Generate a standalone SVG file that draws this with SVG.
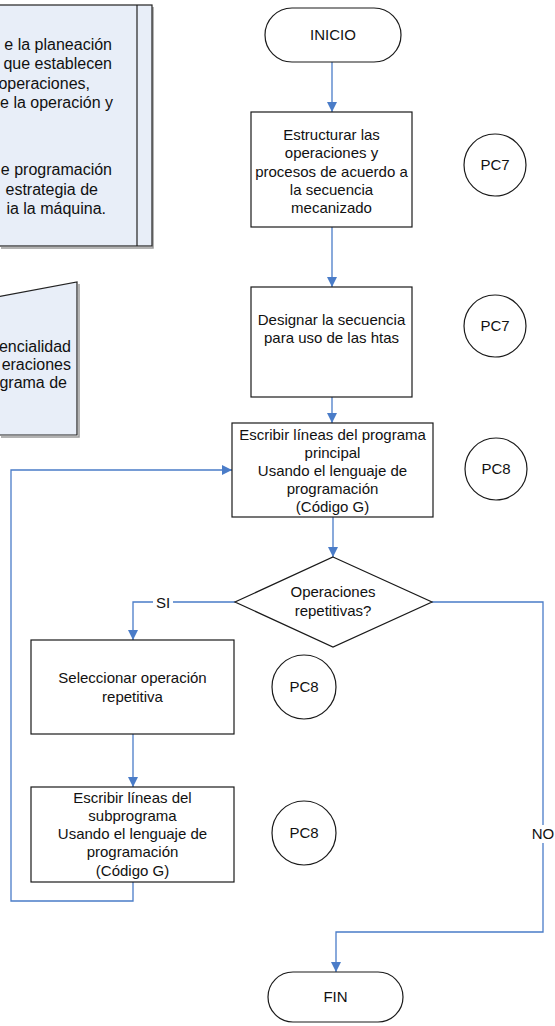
<svg xmlns="http://www.w3.org/2000/svg" width="555" height="1026" viewBox="0 0 555 1026">
  <style>
    text { font-family: "Liberation Sans", Arial, sans-serif; font-size: 15px; fill: #111; }
    .c { text-anchor: middle; }
    .e { text-anchor: end; font-size: 16px; }
    .shape { fill: #fff; stroke: #1a1a1a; stroke-width: 1.2; }
    .note { fill: #e8eef8; stroke: #222; stroke-width: 1.2; }
    .shadow { fill: none; stroke: #9a9a9a; stroke-width: 1.5; }
    .link { fill: none; stroke: #4a7cc8; stroke-width: 1.3; }
    .lbl-bg { fill: #fff; }
  </style>
  <defs>
    <marker id="arrow" viewBox="0 0 10 10" refX="10" refY="5" markerWidth="10" markerHeight="10" markerUnits="userSpaceOnUse" orient="auto">
      <path d="M0,0 L10,5 L0,10 Z" fill="#4a7cc8"/>
    </marker>
  </defs>

  <rect width="555" height="1026" fill="#fff"/>

  <!-- side notes (partly outside the page) -->
  <g id="note-planeacion">
    <path class="shadow" d="M1,248 H153 V7"/>
    <rect class="note" x="-60" y="5" width="212" height="241"/>
    <line x1="137" y1="5" x2="137" y2="246" stroke="#222" stroke-width="1.2"/>
    <text class="e" x="112" y="50">e la planeación</text>
    <text class="e" x="112" y="69">que establecen</text>
    <text class="e" x="90" y="88.5">operaciones,</text>
    <text class="e" x="113" y="108">e la operación y</text>
    <text class="e" x="112" y="175">e programación</text>
    <text class="e" x="98" y="194.5">estrategia de</text>
    <text class="e" x="106" y="214">ia la máquina.</text>
  </g>

  <g id="note-secuencialidad">
    <path class="shadow" d="M1,437 H79 V284"/>
    <path class="note" d="M-20,300 L77,282 V435 H-20 Z"/>
    <text class="e" x="71" y="352">encialidad</text>
    <text class="e" x="71" y="370">eraciones</text>
    <text class="e" x="67" y="388">grama de</text>
  </g>

  <!-- connectors -->
  <g id="connectors">
    <path class="link" d="M332,62 V112" marker-end="url(#arrow)"/>
    <path class="link" d="M332,227 V287" marker-end="url(#arrow)"/>
    <path class="link" d="M332,397 V423" marker-end="url(#arrow)"/>
    <path class="link" d="M333,517 V557" marker-end="url(#arrow)"/>
    <path class="link" d="M235,602 H133 V640" marker-end="url(#arrow)"/>
    <path class="link" d="M133,734 V787" marker-end="url(#arrow)"/>
    <path class="link" d="M133,882 V901 H11 V470 H232" marker-end="url(#arrow)"/>
    <path class="link" d="M432,602 H543 V932 H336 V972" marker-end="url(#arrow)"/>
    <rect class="lbl-bg" x="153" y="594" width="20" height="16"/>
    <text class="c" x="163" y="607.5">SI</text>
    <rect class="lbl-bg" x="530" y="825" width="26" height="18"/>
    <text class="c" x="543" y="839">NO</text>
  </g>

  <!-- flow nodes -->
  <g id="inicio">
    <rect class="shape" x="265" y="8" width="136" height="54" rx="27" ry="27"/>
    <text class="c" x="333" y="40">INICIO</text>
  </g>

  <g id="estructurar">
    <rect class="shape" x="251" y="112" width="161" height="115"/>
    <text class="c" x="331.5" y="140">Estructurar las</text>
    <text class="c" x="331.5" y="158">operaciones y</text>
    <text class="c" x="331.5" y="177">procesos de acuerdo a</text>
    <text class="c" x="331.5" y="195">la secuencia</text>
    <text class="c" x="331.5" y="213">mecanizado</text>
  </g>

  <g id="designar">
    <rect class="shape" x="251" y="287" width="161" height="110"/>
    <text class="c" x="331.5" y="325">Designar la secuencia</text>
    <text class="c" x="331.5" y="343">para uso de las htas</text>
  </g>

  <g id="escribir-principal">
    <rect class="shape" x="232" y="423" width="201" height="94"/>
    <text class="c" x="332.5" y="440">Escribir líneas del programa</text>
    <text class="c" x="332.5" y="458">principal</text>
    <text class="c" x="332.5" y="476">Usando el lenguaje de</text>
    <text class="c" x="332.5" y="494">programación</text>
    <text class="c" x="332.5" y="512">(Código G)</text>
  </g>

  <g id="decision">
    <path class="shape" d="M333,557 L432,602 L333,647 L235,602 Z"/>
    <text class="c" x="333" y="597">Operaciones</text>
    <text class="c" x="333" y="616">repetitivas?</text>
  </g>

  <g id="seleccionar">
    <rect class="shape" x="31" y="640" width="203" height="94"/>
    <text class="c" x="132.5" y="683">Seleccionar operación</text>
    <text class="c" x="132.5" y="702">repetitiva</text>
  </g>

  <g id="escribir-sub">
    <rect class="shape" x="31" y="787" width="203" height="95"/>
    <text class="c" x="132.5" y="803">Escribir líneas del</text>
    <text class="c" x="132.5" y="821">subprograma</text>
    <text class="c" x="132.5" y="839">Usando el lenguaje de</text>
    <text class="c" x="132.5" y="857">programación</text>
    <text class="c" x="132.5" y="876">(Código G)</text>
  </g>

  <g id="fin">
    <rect class="shape" x="268" y="972" width="135" height="50" rx="25" ry="25"/>
    <text class="c" x="335.5" y="1002">FIN</text>
  </g>

  <!-- control points -->
  <g id="pc7-a">
    <circle class="shape" cx="495" cy="165" r="31"/>
    <text class="c" x="495" y="170">PC7</text>
  </g>
  <g id="pc7-b">
    <circle class="shape" cx="495" cy="326" r="31"/>
    <text class="c" x="495" y="331">PC7</text>
  </g>
  <g id="pc8-a">
    <circle class="shape" cx="496" cy="469" r="31"/>
    <text class="c" x="496" y="474">PC8</text>
  </g>
  <g id="pc8-b">
    <circle class="shape" cx="304" cy="687" r="32"/>
    <text class="c" x="304" y="692">PC8</text>
  </g>
  <g id="pc8-c">
    <circle class="shape" cx="304" cy="833" r="32"/>
    <text class="c" x="304" y="838">PC8</text>
  </g>
</svg>
